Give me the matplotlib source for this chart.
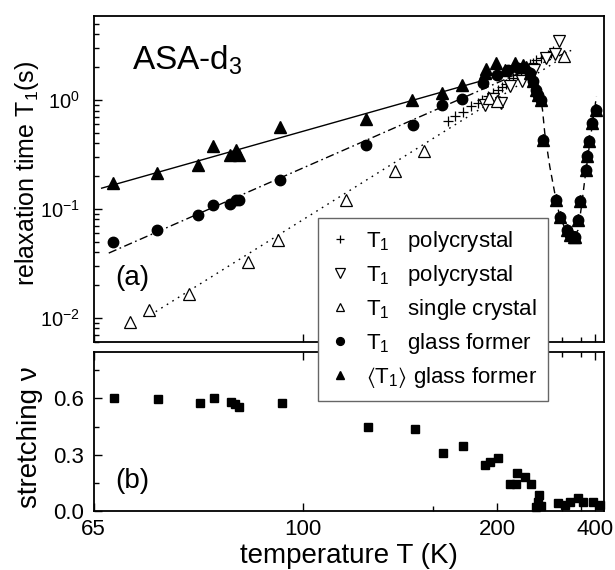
import numpy as np
import matplotlib
matplotlib.use("Agg")
import matplotlib.pyplot as plt
from matplotlib.ticker import FixedLocator, FixedFormatter, NullFormatter, LogLocator

plt.rcParams['font.family'] = ['Liberation Sans', 'DejaVu Sans']
plt.rcParams['mathtext.fontset'] = 'custom'
plt.rcParams['mathtext.rm'] = 'Liberation Sans'
plt.rcParams['mathtext.it'] = 'Liberation Sans:italic'
plt.rcParams['mathtext.default'] = 'regular'

# ---------------- data ----------------
# T1 polycrystal (+)
poly_plus_T = [159.5, 164, 170, 176.4, 181.9, 185, 190.8, 195, 200.6, 205, 209.7, 213,
               217.4, 222, 228.1, 234, 239.8, 245, 250.1, 258.4, 264, 270.3, 275, 280]
poly_plus_T1 = [0.636, 0.707, 0.776, 0.873, 0.938, 1.0, 1.08, 1.15, 1.24, 1.32, 1.40, 1.5,
                1.59, 1.68, 1.77, 1.95, 2.14, 2.2, 2.31, 2.43, 2.5, 2.57, 2.7, 2.8]
# T1 polycrystal (open down triangles)
poly_tri_T = [187.7, 195.6, 204, 213.5, 229, 246, 266, 284, 293]
poly_tri_T1 = [0.89, 1.03, 0.93, 1.33, 1.49, 1.88, 2.43, 2.66, 3.45]
# T1 single crystal (open up triangles)
single_T = [69.2, 71.7, 77.4, 87.7, 94.0, 112.4, 130.9, 145.1, 192, 200, 303]
single_T1 = [0.0092, 0.0118, 0.0165, 0.0324, 0.052, 0.121, 0.221, 0.337, 1.05, 0.97, 2.52]
# T1 glass former (filled circles)
glass_T = [67.2, 72.7, 78.8, 81.3, 84.2, 85.4, 85.9, 94.4, 119.5, 139.2, 155.3, 169.5,
           186.2, 199, 211.5, 223.7]
glass_T1 = [0.0495, 0.0643, 0.087, 0.109, 0.111, 0.121, 0.12, 0.185, 0.383, 0.593, 0.905,
            1.02, 1.43, 1.71, 1.9, 1.97]
# <T1> glass former (filled triangles)
mean_T = [67.2, 72.7, 78.8, 81.3, 84.2, 85.4, 85.9, 94.4, 119.5, 138.7, 155.3, 169.5,
          187.7, 189, 198.3, 207.8, 219.5, 230.3, 235]
mean_T1 = [0.173, 0.213, 0.251, 0.38, 0.314, 0.349, 0.314, 0.56, 0.67, 1.0, 1.17, 1.38,
           1.75, 1.93, 2.19, 1.9, 2.19, 2.11, 2.0]
# glass former near the minimum (T1 and <T1> coincide)
dip_T = [239.8, 244.8, 250.1, 252.7, 258.4, 261.2, 285.5, 295.7, 311.3, 318.2, 329, 333,
         341.3, 346.5, 366, 372, 377.8, 390.6, 407]
dip_T1 = [1.77, 1.48, 1.24, 1.12, 1.0, 0.43, 0.121, 0.085, 0.064, 0.058, 0.055, 0.055,
          0.079, 0.117, 0.229, 0.308, 0.417, 0.62, 0.81]

# fit lines
fit_mean_T = [65.9, 240]
fit_mean_T1 = [0.155, 2.0]
fit_glass_T = [66.7, 327]
fit_glass_T1 = [0.0393, 2.90]
fit_single_T = [71.8, 305]
fit_single_T1 = [0.0106, 2.51]
dip_fit_T = [240, 250, 257, 260.2, 264.2, 273.5, 283.4, 294.1, 309.8, 327, 341.3, 351.9,
             362.7, 380.4, 393.1, 407]
dip_fit_T1 = [1.83, 1.24, 1.0, 0.814, 0.497, 0.245, 0.14, 0.085, 0.062, 0.054, 0.064,
              0.105, 0.185, 0.403, 0.659, 1.08]

# stretching parameter
stretch_T = [67.3, 72.8, 79.0, 81.4, 84.4, 85.2, 85.8, 94.8, 120.1, 140.4, 156.3, 170,
             187.8, 192.4, 200.6, 213.5, 221.6, 222, 232.6, 242.3, 250, 252.7, 255, 258.4,
             290.4, 305.7, 318.2, 341.3, 357, 393, 421.6]
stretch_nu = [0.60, 0.597, 0.575, 0.60, 0.582, 0.57, 0.555, 0.577, 0.447, 0.436, 0.31,
              0.346, 0.243, 0.263, 0.28, 0.141, 0.141, 0.199, 0.18, 0.145, 0.022, 0.048,
              0.083, 0.027, 0.04, 0.03, 0.048, 0.068, 0.048, 0.048, 0.03]

x_major = [65, 100, 200, 400]
x_major_labels = ['65', '100', '200', '400']
x_minor = [150, 300, 350]

# ---------------- figure ----------------
W, H = 615, 570
fig = plt.figure(figsize=(W / 100, H / 100), dpi=100)

def fx(px):
    return px / W

def fy(py):
    return 1 - py / H

L, R = 93.5, 604
ax1 = fig.add_axes([fx(L), fy(342), fx(R) - fx(L), fy(16) - fy(342)])
ax2 = fig.add_axes([fx(L), fy(510.7), fx(R) - fx(L), fy(351.7) - fy(510.7)])

def fwd(T):
    T = np.asarray(T, dtype=float)
    with np.errstate(divide='ignore', invalid='ignore'):
        return -1.0 / T

def inv(u):
    u = np.asarray(u, dtype=float)
    with np.errstate(divide='ignore', invalid='ignore'):
        return -1.0 / u

for ax in (ax1, ax2):
    ax.set_xscale('function', functions=(fwd, inv))
    ax.set_xlim(65, 442)
    ax.xaxis.set_major_locator(FixedLocator(x_major))
    ax.xaxis.set_minor_locator(FixedLocator(x_minor))
    ax.xaxis.set_minor_formatter(NullFormatter())
    for s in ax.spines.values():
        s.set_linewidth(1.3)
    ax.tick_params(which='both', direction='in', labelsize=16, width=1.0)
    ax.tick_params(which='major', length=6)
    ax.tick_params(which='minor', length=3.5)

# ---- top panel ----
ax1.set_yscale('log')
ax1.set_ylim(0.006, 5.9)
ax1.yaxis.set_major_locator(LogLocator(base=10, numticks=10))
ax1.yaxis.set_minor_locator(LogLocator(base=10, subs=np.arange(2, 10), numticks=10))
ax1.yaxis.set_minor_formatter(NullFormatter())
ax1.tick_params(axis='y', which='major', pad=10, labelsize=14.5)
ax1.xaxis.set_major_formatter(NullFormatter())
ax1.tick_params(top=False, right=False, bottom=True, left=True)

ax1.plot(fit_mean_T, fit_mean_T1, color='black', lw=1.0, ls='-')
ax1.plot(fit_glass_T, fit_glass_T1, color='black', lw=1.0, ls=(0, (6, 2.5, 1.2, 2.5)))
ax1.plot(fit_single_T, fit_single_T1, color='black', lw=1.0, ls=(0, (1.2, 3.5)))
ax1.plot(dip_fit_T, dip_fit_T1, color='black', lw=1.0, ls=(0, (5, 3.5)))

h_plus, = ax1.plot(poly_plus_T, poly_plus_T1, ls='none', marker='+', ms=7, mew=0.9,
                   color='black')
h_vtri, = ax1.plot(poly_tri_T, poly_tri_T1, ls='none', marker='v', ms=9, mew=0.9,
                   mfc='white', mec='black')
h_utri, = ax1.plot(single_T, single_T1, ls='none', marker='^', ms=8, mew=0.9,
                   mfc='white', mec='black')
h_circ, = ax1.plot(glass_T, glass_T1, ls='none', marker='o', ms=7.5, color='black')
h_ftri, = ax1.plot(mean_T, mean_T1, ls='none', marker='^', ms=8.5, color='black')
ax1.plot(dip_T, dip_T1, ls='none', marker='o', ms=7.5, color='black')
ax1.plot(dip_T, dip_T1, ls='none', marker='^', ms=8.5, color='black')

ax1.set_ylabel(r'relaxation time T$_1$(s)', fontsize=18)
ax1.yaxis.set_label_coords(-0.102, 0.517)
ax1.text(0.075, 0.835, r'ASA-d$_3$', transform=ax1.transAxes, fontsize=24,
         ha='left', va='baseline')
ax1.text(0.042, 0.196, '(a)', transform=ax1.transAxes, fontsize=20,
         ha='left', va='center')

# ---- bottom panel ----
ax2.plot(stretch_T, stretch_nu, ls='none', marker='s', ms=6, color='black', clip_on=False)
ax2.set_ylim(0, 0.85)
ax2.yaxis.set_major_locator(FixedLocator([0.0, 0.3, 0.6]))
ax2.yaxis.set_major_formatter(FixedFormatter(['0.0', '0.3', '0.6']))
ax2.yaxis.set_minor_locator(FixedLocator([0.15, 0.45, 0.75]))
ax2.xaxis.set_major_formatter(FixedFormatter(x_major_labels))
ax2.tick_params(top=True, right=False, bottom=True, left=True)
ax2.tick_params(which='minor', top=True)
ax2.tick_params(axis='y', which='major', pad=7)
ax2.tick_params(axis='x', which='major', pad=6)
ax2.set_ylabel('stretching ν', fontsize=20)
ax2.yaxis.set_label_coords(-0.098, 0.46)
ax2.set_xlabel('temperature T (K)', fontsize=20, labelpad=2)
ax2.text(0.042, 0.189, '(b)', transform=ax2.transAxes, fontsize=20,
         ha='left', va='center')

# ---- legend ----
labels = [r'T$_1$   polycrystal', r'T$_1$   polycrystal', r'T$_1$   single crystal',
          r'T$_1$   glass former', r'$\langle$T$_1\rangle$ glass former']
leg = fig.legend([h_plus, h_vtri, h_utri, h_circ, h_ftri], labels,
                 loc='upper left', bbox_to_anchor=(fx(318), fy(218)),
                 borderaxespad=0, fontsize=16, frameon=True, fancybox=False,
                 edgecolor='#666666', framealpha=1, handlelength=1.0,
                 handletextpad=0.65, labelspacing=0.4, borderpad=0.5,
                 markerscale=0.75)
leg.get_frame().set_linewidth(1.0)

fig.savefig('out.png', dpi=100)
